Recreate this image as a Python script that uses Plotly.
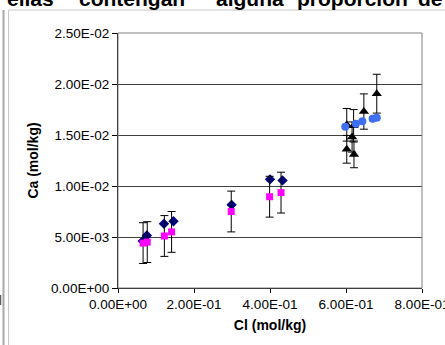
import plotly.graph_objects as go

# ---- data ----
x_diamond = [0.065, 0.076, 0.121, 0.146, 0.299, 0.400, 0.433]
y_diamond = [4.6e-3, 5.15e-3, 6.3e-3, 6.55e-3, 8.15e-3, 10.65e-3, 10.55e-3]

x_square = [0.066, 0.077, 0.122, 0.141, 0.298, 0.399, 0.429]
y_square = [4.4e-3, 4.5e-3, 5.1e-3, 5.5e-3, 7.5e-3, 8.95e-3, 9.35e-3]
err_square = 0.002

x_circle = [0.598, 0.626, 0.643, 0.670, 0.681]
y_circle = [15.8e-3, 16.1e-3, 16.35e-3, 16.6e-3, 16.7e-3]

x_tri = [0.602, 0.602, 0.616, 0.620, 0.621, 0.647, 0.681]
y_tri = [16.0e-3, 13.6e-3, 14.8e-3, 15.9e-3, 13.1e-3, 17.3e-3, 19.05e-3]
err_tri_pct = 10

x_ticks = [0, 0.2, 0.4, 0.6, 0.8]
x_ticktext = ["0.00E+00", "2.00E-01", "4.00E-01", "6.00E-01", "8.00E-01"]
y_ticks = [0, 0.005, 0.010, 0.015, 0.020, 0.025]
y_ticktext = ["0.00E+00", "5.00E-03", "1.00E-02", "1.50E-02", "2.00E-02", "2.50E-02"]

x_title = "Cl (mol/kg)"
y_title = "Ca (mol/kg)"
header_words = ["ellas", "contengan", "alguna", "proporción", "de"]

# ---- layout geometry (pixels) ----
W, H = 445, 345
L, R, T, B = 118, 23, 33, 57
PW, PH = W - L - R, H - T - B


def px(x):
    return (x - L) / PW


def py(y):
    return (H - B - y) / PH


font = "Liberation Sans, Arial, sans-serif"

fig = go.Figure()

fig.add_trace(go.Scatter(
    x=x_diamond, y=y_diamond, mode="markers",
    marker=dict(symbol="diamond", size=8, color="#000080"),
    showlegend=False))

fig.add_trace(go.Scatter(
    x=x_square, y=y_square, mode="markers",
    marker=dict(symbol="square", size=7, color="#FF00FF"),
    error_y=dict(type="constant", value=err_square, color="black",
                 thickness=1, width=4),
    showlegend=False))

fig.add_trace(go.Scatter(
    x=x_tri, y=y_tri, mode="markers",
    marker=dict(symbol="triangle-up", size=9, color="black"),
    error_y=dict(type="percent", value=err_tri_pct, color="black",
                 thickness=1, width=4),
    showlegend=False))

fig.add_trace(go.Scatter(
    x=x_circle, y=y_circle, mode="markers",
    marker=dict(symbol="circle", size=8, color="#3F6FF0"),
    showlegend=False))

shapes = [
    dict(type="rect", xref="paper", yref="paper", x0=0, x1=1, y0=0, y1=1,
         line=dict(color="#808080", width=1), layer="above"),
    dict(type="line", xref="paper", yref="paper", x0=px(3.5), x1=px(3.5),
         y0=py(10), y1=py(345), line=dict(color="#a8a8a8", width=2)),
    dict(type="line", xref="paper", yref="paper", x0=px(8.5), x1=px(8.5),
         y0=py(10), y1=py(345), line=dict(color="#c8c8c8", width=1)),
    dict(type="line", xref="paper", yref="paper", x0=px(8.5), x1=px(445),
         y0=py(10), y1=py(10), line=dict(color="#c8c8c8", width=1)),
    dict(type="line", xref="paper", yref="paper", x0=px(0.5), x1=px(0.5),
         y0=py(295), y1=py(305), line=dict(color="#606060", width=1.5)),
]

word_cx = [30, 132, 250, 352, 430]
annotations = []
for w, cx in zip(header_words, word_cx):
    annotations.append(dict(
        text=f"<b>{w}</b>", xref="paper", yref="paper", x=px(cx), y=py(9),
        xanchor="center", yanchor="middle", showarrow=False,
        font=dict(family=font, size=21, color="black"), yshift=10))

fig.update_layout(
    template="none",
    width=W, height=H,
    margin=dict(l=L, r=R, t=T, b=B, pad=0, autoexpand=False),
    paper_bgcolor="white", plot_bgcolor="white",
    font=dict(family=font, size=13.5, color="black"),
    shapes=shapes,
    annotations=annotations,
    xaxis=dict(
        range=[0, 0.8], tickvals=x_ticks, ticktext=x_ticktext,
        showgrid=False, zeroline=False, showline=True, linecolor="black",
        linewidth=1, ticks="outside", ticklen=4, tickcolor="black",
        ticklabeloverflow="allow", automargin=False,
        title=dict(text=f"<b>{x_title}</b>", font=dict(size=14), standoff=8),
        tickfont=dict(size=13.5)),
    yaxis=dict(
        range=[0, 0.025], tickvals=y_ticks, ticktext=y_ticktext,
        showgrid=True, gridcolor="#404040", gridwidth=1,
        zeroline=False, showline=True, linecolor="black",
        linewidth=1, ticks="outside", ticklen=5, tickcolor="black",
        automargin=False,
        title=dict(text=f"<b>{y_title}</b>", font=dict(size=14), standoff=9),
        tickfont=dict(size=13.5)),
)

fig.write_html("out.html",
               config={"displayModeBar": False},
               post_script="document.body.style.margin='0';")
